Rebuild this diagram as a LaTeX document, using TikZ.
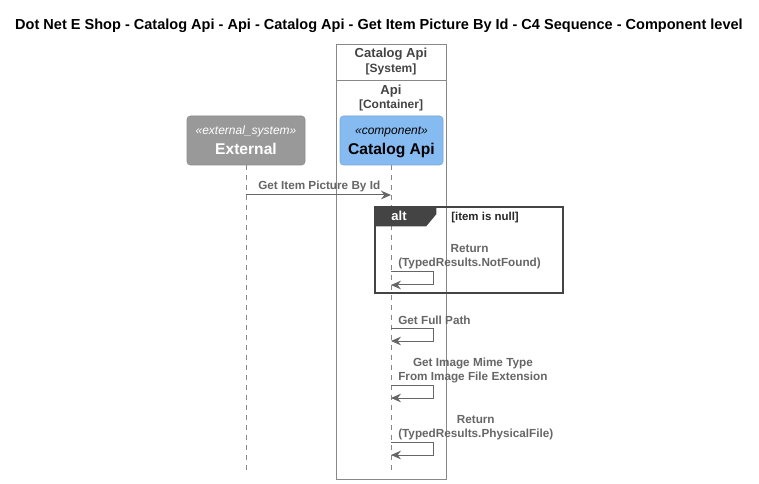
\documentclass[tikz,border=0pt]{standalone}
\usepackage{fontspec}
\setmainfont{Liberation Sans}
\usetikzlibrary{arrows.meta,positioning,calc}

\definecolor{extfill}{HTML}{999999}
\definecolor{extline}{HTML}{8A8A8A}
\definecolor{compfill}{HTML}{85BBF0}
\definecolor{compline}{HTML}{78A8D8}
\definecolor{msggray}{HTML}{666666}
\definecolor{framegray}{HTML}{888888}
\definecolor{altdark}{HTML}{444444}

\newcommand{\stereofont}{\fontsize{9}{11}\selectfont\mdseries\itshape}
\newcommand{\namefont}{\fontsize{11.7}{14}\selectfont\bfseries}
\newcommand{\msgfont}{\fontsize{8.8}{10.5}\selectfont\bfseries}

\begin{document}
\begin{tikzpicture}[
  x=0.75pt, y=-0.75pt,
  font=\bfseries,
  >={Stealth[length=7.5pt,width=6.5pt,inset=2.5pt]},
  partbox/.style={rounded corners=2.5pt, minimum width=#1, minimum height=36.75pt, inner sep=0pt},
  extbox/.style={partbox=88.5pt, draw=extline, fill=extfill},
  compbox/.style={partbox=77.25pt, draw=compline, fill=compfill},
  frame/.style={draw=framegray, line width=0.75pt},
  lifeline/.style={draw=framegray, line width=0.6pt, dash pattern=on 3.75pt off 3.75pt},
  msg/.style={draw=msggray, line width=0.75pt, ->},
  msglabel/.style={text=msggray, font=\msgfont, inner sep=0pt, align=center},
  hdr/.style={text=altdark, inner sep=0pt, anchor=base}]

\useasboundingbox (0,0) rectangle (759,484);

% title
\node[anchor=base, inner sep=0pt, font=\fontsize{10.9}{13}\selectfont\bfseries] (title) at (379,30)
  {Dot Net E Shop - Catalog Api - Api - Catalog Api - Get Item Picture By Id - C4 Sequence - Component level};

% system / container boundary
\node[frame, minimum width=82.5pt, minimum height=325.5pt, inner sep=0pt] (sys) at (391,262) {};
\coordinate (sepl) at (336,81);
\coordinate (sepr) at (446,81);
\draw[frame] (sepl) -- (sepr);
\node[hdr, font=\fontsize{9.8}{12}\selectfont\bfseries] (sysname) at (391,58) {Catalog Api};
\node[hdr, font=\fontsize{9}{11}\selectfont\bfseries] (systype) at (391,73) {[System]};
\node[hdr, font=\fontsize{9.8}{12}\selectfont\bfseries] (conname) at (391,95) {Api};
\node[hdr, font=\fontsize{9}{11}\selectfont\bfseries] (contype) at (391,109) {[Container]};

% participants
\node[extbox] (ext) at (246,140.5) {};
\node[anchor=base, inner sep=0pt, text=white, font=\stereofont] (extst) at (246,135) {«external\_system»};
\node[anchor=base, inner sep=0pt, text=white, font=\namefont] (extname) at (246,155) {External};

\node[compbox] (cat) at (391.5,140.5) {};
\node[anchor=base, inner sep=0pt, font=\stereofont] (catst) at (391.5,135) {«component»};
\node[anchor=base, inner sep=0pt, font=\namefont] (catname) at (391.5,155) {Catalog Api};

% lifelines
\coordinate (extend) at (246,472);
\coordinate (catend) at (391,472);
\draw[lifeline] (ext.south) -- (extend);
\draw[lifeline] (ext.south -| catend) -- (catend);

% first call
\coordinate (m0a) at (246,195);
\coordinate (m0b) at (391,195);
\draw[msg] (m0a) -- (m0b);
\node[msglabel, anchor=base west] (m0) at (258,190) {Get Item Picture By Id};

% alt fragment
\node[draw=altdark, line width=1.1pt, minimum width=141pt, minimum height=64.5pt, inner sep=0pt] (alt) at (469,250) {};
\fill[altdark] (alt.north west) -- ++(62,0) -- ++(0,8) -- ++(-10,12) -- ($(alt.north west)+(0,20)$) -- cycle;
\node[anchor=base, inner sep=0pt, text=white, font=\fontsize{9.75}{12}\selectfont\bfseries] (altname) at (399,221) {alt};
\node[anchor=base west, inner sep=0pt, text=black!85, font=\fontsize{8.6}{10}\selectfont\bfseries] (guard) at (451,220.5) {[item is null]};

% self calls (base = last line)
\node[msglabel, anchor=base west] (m1) at (398,267) {Return\\(TypedResults.NotFound)};
\node[msglabel, anchor=base west] (m2) at (398,324) {Get Full Path};
\node[msglabel, anchor=base west] (m3) at (398,380.5) {Get Image Mime Type\\From Image File Extension};
\node[msglabel, anchor=base west] (m4) at (398,437) {Return\\(TypedResults.PhysicalFile)};

\foreach \y in {272,328,385,442} {
  \draw[msg] (catend |- 0,\y) -- ++(42,0) -- ++(0,13) -- (catend |- 0,\y+13);
}

\end{tikzpicture}
\end{document}
